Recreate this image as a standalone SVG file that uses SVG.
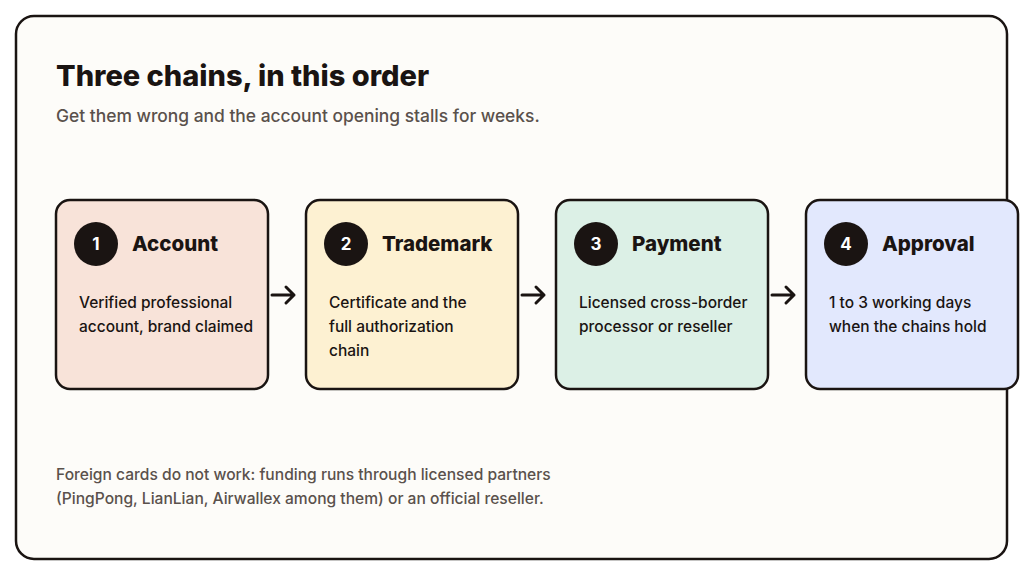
<svg xmlns="http://www.w3.org/2000/svg" width="1024" height="576" viewBox="0 0 1024 576">
<style>
.card{stroke:#1a1412;stroke-width:2.5}
.num{fill:#1a1412}
.n{font-family:Inter,"Liberation Sans",sans-serif;font-size:17px;font-weight:700;fill:#fff;text-anchor:middle}
.t{font-family:Inter,"Liberation Sans",sans-serif;font-size:20.5px;font-weight:800;fill:#1a1412}
.b{font-family:Inter,"Liberation Sans",sans-serif;font-size:15.5px;font-weight:500;fill:#1a1412}
.s{font-family:Inter,"Liberation Sans",sans-serif;font-size:15.6px;font-weight:500;fill:#5a514c}
.c{stroke:#1a1412;stroke-width:3;fill:none;stroke-linecap:round;stroke-linejoin:round}
</style>
<rect width="1024" height="576" fill="#fff"/>
<rect x="16" y="16" width="991" height="543" rx="18" fill="#fdfcf9" stroke="#1a1412" stroke-width="2.5"/>
<text x="56" y="86" font-family="Inter,'Liberation Sans',sans-serif" font-size="29" font-weight="800" fill="#1a1412">Three chains, in this order</text>
<text x="56" y="122" class="s" style="font-size:17.4px">Get them wrong and the account opening stalls for weeks.</text>
<g id="n1"><rect class="card" x="56" y="200" width="212" height="189" rx="14" fill="#f8e3d9"/><circle class="num" cx="96" cy="244" r="22"/><text class="n" x="96" y="250">1</text><text class="t" x="132" y="251">Account</text><text class="b" x="79" y="308">Verified professional</text><text class="b" x="79" y="332">account, brand claimed</text></g>
<g id="n2"><rect class="card" x="306" y="200" width="212" height="189" rx="14" fill="#fdf1d2"/><circle class="num" cx="346" cy="244" r="22"/><text class="n" x="346" y="250">2</text><text class="t" x="382" y="251">Trademark</text><text class="b" x="329" y="308">Certificate and the</text><text class="b" x="329" y="332">full authorization</text><text class="b" x="329" y="356">chain</text></g>
<g id="n3"><rect class="card" x="556" y="200" width="212" height="189" rx="14" fill="#dcf0e6"/><circle class="num" cx="596" cy="244" r="22"/><text class="n" x="596" y="250">3</text><text class="t" x="632" y="251">Payment</text><text class="b" x="579" y="308">Licensed cross-border</text><text class="b" x="579" y="332">processor or reseller</text></g>
<g id="n4"><rect class="card" x="806" y="200" width="212" height="189" rx="14" fill="#e2e8fd"/><circle class="num" cx="846" cy="244" r="22"/><text class="n" x="846" y="250">4</text><text class="t" x="882" y="251">Approval</text><text class="b" x="829" y="308">1 to 3 working days</text><text class="b" x="829" y="332">when the chains hold</text></g>
<g id="connectors">
<path class="c" d="M272 295H294M286 287L294 295L286 303"/>
<path class="c" d="M522 295H544M536 287L544 295L536 303"/>
<path class="c" d="M772 295H794M786 287L794 295L786 303"/>
</g>
<text x="56" y="480" class="s">Foreign cards do not work: funding runs through licensed partners</text>
<text x="56" y="504" class="s">(PingPong, LianLian, Airwallex among them) or an official reseller.</text>
</svg>
